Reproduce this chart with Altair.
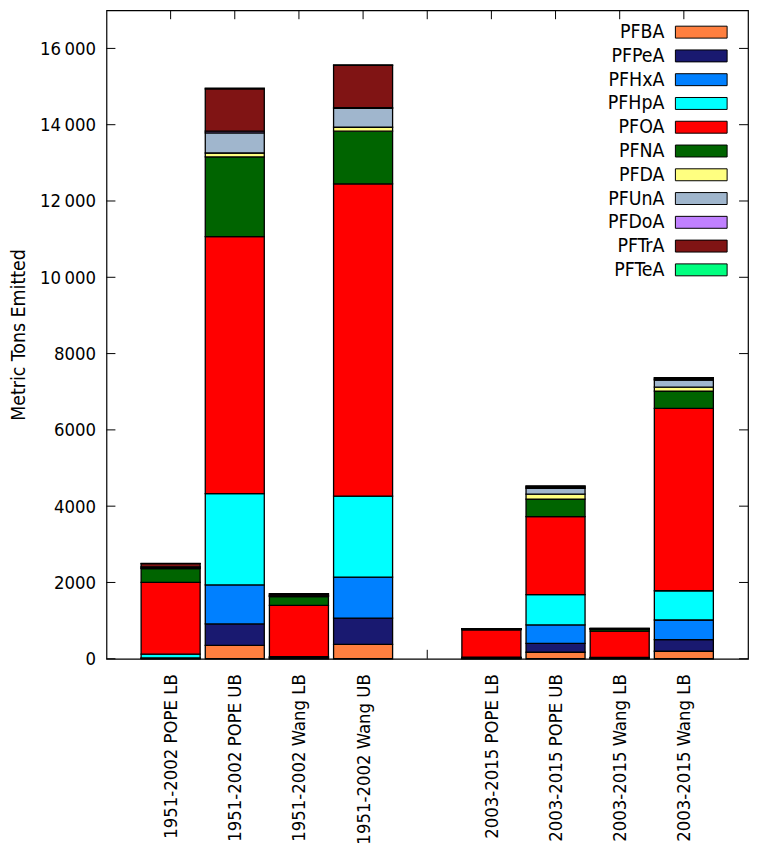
import altair as alt
import pandas as pd

# ---------------- data ----------------
categories = ["1951-2002 POPE LB", "1951-2002 POPE UB", "1951-2002 Wang LB", "1951-2002 Wang UB",
              "2003-2015 POPE LB", "2003-2015 POPE UB", "2003-2015 Wang LB", "2003-2015 Wang LB"]
groups = [0, 0, 0, 0, 1, 1, 1, 1]

series = ["PFBA", "PFPeA", "PFHxA", "PFHpA", "PFOA", "PFNA", "PFDA", "PFUnA", "PFDoA", "PFTrA", "PFTeA"]
colors = ["#ff7f3f", "#191970", "#0080ff", "#00ffff", "#ff0000", "#006400",
          "#ffff80", "#a0b6cd", "#c080ff", "#801414", "#00ff7f"]

PFBA  = [5,    350,  15,   376,  10,  171,  10,  197]
PFPeA = [5,    563,  10,   691,  10,  231,  8,   307]
PFHxA = [10,   1023, 15,   1074, 10,  486,  8,   512]
PFHpA = [100,  2395, 15,   2123, 10,  793,  8,   767]
PFOA  = [1883, 6737, 1344, 8186, 720, 2046, 690, 4783]
PFNA  = [358,  2088, 230,  1381, 15,  460,  51,  451]
PFDA  = [15,   102,  10,   102,  3,   128,  4,   102]
PFUnA = [28,   530,  24,   494,  5,   154,  8,   189]
PFDoA = [5,    43,   5,    20,   2,   15,   2,   15]
PFTrA = [85,   1108, 35,   1110, 5,   36,   4,   35]
PFTeA = [5,    20,   5,    10,   2,   10,   2,   9]

values = [PFBA, PFPeA, PFHxA, PFHpA, PFOA, PFNA, PFDA, PFUnA, PFDoA, PFTrA, PFTeA]
y_ticks = [0, 2000, 4000, 6000, 8000, 10000, 12000, 14000, 16000]

# slot positions: each group of 4 bars followed by an empty slot
slots = []
for i, g in enumerate(groups):
    within = i - groups.index(g)
    slots.append(g * 5 + within + 1)
tick_slots = list(range(1, 10))

rows = []
for si, (name, vals) in enumerate(zip(series, values)):
    for ci, v in enumerate(vals):
        rows.append({"series": name, "idx": si, "pos": slots[ci], "value": v})
df = pd.DataFrame(rows)

# ---------------- layout ----------------
W, H = 645, 652
FONT = "DejaVu Sans Condensed, Liberation Sans, sans-serif"
FS_NUM = 18.5
FS_X = 18.5
FS = 19.5

label_map = {s: c for s, c in zip(slots, categories)}
x_label_expr = ""
for s in tick_slots:
    x_label_expr += f"datum.value == {s} ? '{label_map.get(s, '')}' : "
x_label_expr += "''"

y_label_expr = ("datum.value >= 10000 ? replace(format(datum.value, ','), ',', '\u2009') "
                ": format(datum.value, 'd')")

xscale = alt.Scale(domain=[0, 10], nice=False, zero=False)
yscale = alt.Scale(domain=[0, 17000], nice=False)

bars = alt.Chart(df).transform_stack(
    stack="value", as_=["v0", "v1"], groupby=["pos"], sort=[alt.SortField("idx", order="ascending")]
).transform_calculate(
    x0="datum.pos - 0.46", x1="datum.pos + 0.46"
).mark_bar(stroke="black", strokeWidth=1.3).encode(
    x=alt.X("x0:Q", scale=xscale,
            axis=alt.Axis(values=tick_slots, labelExpr=x_label_expr, labelAngle=-90,
                          ticks=False, tickSize=0, domain=False, grid=False, labelPadding=15,
                          labelFontSize=FS_X, labelFont=FONT, labelColor="black", title=None,
                          labelLimit=0,
                          labelOverlap=False, labelBound=False, labelFlush=False)),
    x2="x1:Q",
    y=alt.Y("v0:Q", scale=yscale,
            axis=alt.Axis(values=y_ticks, labelExpr=y_label_expr, ticks=False, tickSize=0,
                          domain=False, grid=False, labelPadding=11, labelFontSize=FS_NUM,
                          labelFont=FONT, labelColor="black", labelOverlap=False,
                          labelFlush=False, labelBound=False,
                          title="Metric Tons Emitted", titleFont=FONT, titleFontSize=FS,
                          titleFontWeight="normal", titleColor="black",
                          titleX=-88, titleY=H / 2, titleAngle=-90, titleBaseline="middle",
                          titleAlign="center")),
    y2="v1:Q",
    color=alt.Color("series:N", scale=alt.Scale(domain=series, range=colors), legend=None),
)

ytick_df = pd.DataFrame({"v": y_ticks})
xtick_df = pd.DataFrame({"p": tick_slots})

ytick_left = alt.Chart(ytick_df).mark_rule(color="black", strokeWidth=1).encode(
    y=alt.Y("v:Q", scale=yscale, axis=None), x=alt.value(0), x2=alt.value(9))
ytick_right = alt.Chart(ytick_df).mark_rule(color="black", strokeWidth=1).encode(
    y=alt.Y("v:Q", scale=yscale, axis=None), x=alt.value(W - 9), x2=alt.value(W))
xtick_top = alt.Chart(xtick_df).mark_rule(color="black", strokeWidth=1).encode(
    x=alt.X("p:Q", scale=xscale, axis=None), y=alt.value(0), y2=alt.value(9))
xtick_bottom = alt.Chart(xtick_df).mark_rule(color="black", strokeWidth=1).encode(
    x=alt.X("p:Q", scale=xscale, axis=None), y=alt.value(H - 9), y2=alt.value(H))

# ---------------- legend (gnuplot style: label left, swatch right) ----------------
leg_df = pd.DataFrame({"series": series})
leg_y = alt.Y("series:N", scale=alt.Scale(domain=series, range=[22, 261], padding=0), axis=None)
swatch_path = "M-1,-0.2308H1V0.2308H-1Z"
leg_sym = alt.Chart(leg_df).mark_point(
    shape=swatch_path, filled=True, size=2704, stroke="black", strokeWidth=1, opacity=1
).encode(
    x=alt.value(W - 47), y=leg_y,
    color=alt.Color("series:N", scale=alt.Scale(domain=series, range=colors), legend=None),
)
leg_txt = alt.Chart(leg_df).mark_text(
    align="right", baseline="middle", font=FONT, fontSize=FS, color="black"
).encode(x=alt.value(W - 84), y=leg_y, text="series:N")

chart = alt.layer(
    xtick_bottom, xtick_top, ytick_left, ytick_right, bars, leg_sym, leg_txt
).resolve_scale(x="independent", y="independent").properties(
    width=W, height=H,
    autosize=alt.AutoSizeParams(type="none"),
    padding={"left": 99, "top": 0, "right": 1, "bottom": 190},
    background="white",
).configure_view(stroke="black", strokeWidth=1.2)

chart.save("out.html", embed_options={"renderer": "svg", "actions": False})
